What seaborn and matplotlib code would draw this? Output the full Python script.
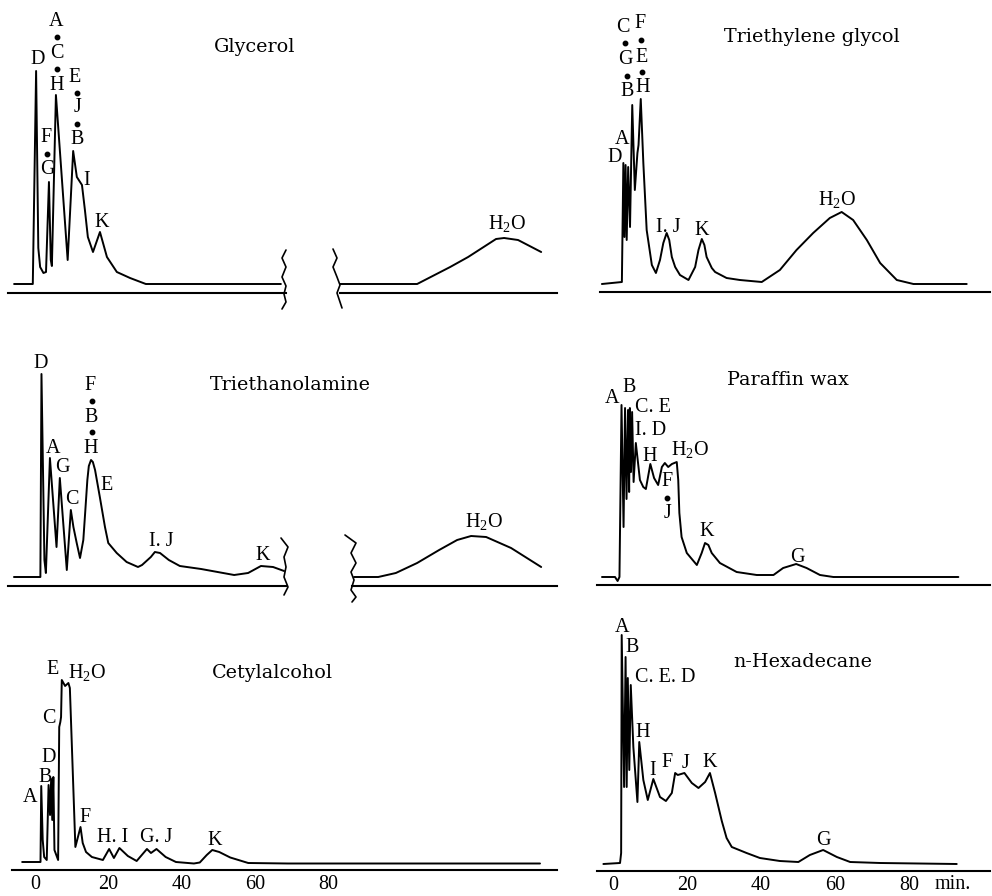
import numpy as np
import pandas as pd
import matplotlib
matplotlib.use("Agg")
import matplotlib.pyplot as plt
import seaborn as sns
from matplotlib.lines import Line2D

# ---------------- data (time in min, detector response in arbitrary units) ----------------
gly_t = [-5.7, -0.6, 0.3, 0.9, 1.4, 2.3, 3.0, 3.8, 4.3, 4.6, 5.7, 8.9, 10.4, 11.4, 12.8,
         13.6, 14.4, 15.8, 17.7, 19.6, 22.3, 25.9, 30.2, 67.0]
gly_r = [0, 0, 213, 36, 17, 11, 12, 102, 24, 18, 189, 24, 133, 107, 99,
         74, 47, 32, 52, 27, 12, 6, 0, 0]
gly_w_t = [157.4, 178.4, 187.4, 192.3, 199.9, 202.1, 205.9, 212.2]
gly_w_r = [0, 0, 17, 27, 45, 46, 44, 32]

teg_t = [-3.0, 2.4, 2.8, 3.1, 3.4, 3.7, 4.1, 4.6, 5.2, 5.9, 6.6, 6.9, 7.5, 8.2, 9.1, 10.5,
         11.6, 12.7, 13.6, 14.5, 15.2, 15.9, 16.8, 18.1, 20.4, 22.2, 23.1, 24.0, 24.7, 25.3,
         26.7, 27.6, 30.7, 34.3, 40.2, 45.1, 49.6, 54.1, 58.6, 61.8, 64.9, 68.6, 72.2,
         76.7, 81.2, 95.6]
teg_r = [0, 2, 121, 47, 119, 44, 117, 57, 179, 94, 131, 139, 185, 121, 54, 19,
         11, 24, 41, 51, 44, 27, 17, 9, 4, 17, 34, 45, 39, 27,
         16, 12, 6, 4, 2, 14, 34, 51, 66, 72, 64, 44, 21,
         4, 0, 0]

tea_t = [-4.1, 3.1, 3.4, 4.2, 4.6, 5.7, 7.5, 8.4, 10.3, 11.4, 12.1, 13.0, 13.9, 14.8,
         15.3, 15.9, 16.3, 16.9, 17.4, 18.0, 19.3, 20.7, 21.6, 23.9, 26.6, 29.7, 30.8,
         33.2, 34.3, 35.7, 38.1, 41.1, 46.9, 55.9, 59.7, 63.2, 66.5, 69.5]
tea_r = [0, 0, 203, 17, 4, 119, 30, 99, 7, 67, 50, 34, 19, 37,
         64, 97, 111, 117, 115, 107, 80, 50, 34, 24, 15, 10, 12,
         20, 25, 24, 17, 11, 8, 2, 4, 11, 10, 6]
tea_w_t = [161.2, 167.8, 172.6, 178.4, 184.4, 189.3, 193.1, 197.2, 204.0, 212.2]
tea_w_r = [0, 0, 4, 14, 27, 37, 41, 40, 29, 10]

par_t = [-3.5, 0.0, 0.7, 1.2, 1.75, 2.3, 2.7, 3.1, 3.5, 3.8, 4.0, 4.3, 4.6, 5.0, 5.6,
         6.7, 7.6, 8.3, 9.5, 10.5, 11.6, 12.6, 13.4, 14.3, 15.3, 16.6, 17.0, 17.3, 17.9,
         19.3, 22.0, 23.3, 24.2, 25.1, 26.0, 28.2, 32.7, 38.1, 42.6, 45.2, 48.7, 51.5,
         55.1, 58.7, 92.3]
par_r = [0, 0, -4, 0, 172, 50, 169, 78, 167, 85, 169, 105, 165, 95, 134,
         97, 90, 88, 113, 99, 92, 110, 114, 110, 113, 115, 97, 64, 40,
         24, 12, 24, 34, 32, 24, 14, 5, 2, 2, 9, 13, 9,
         2, 0, 0]

cet_t = [-3.5, 1.5, 1.7, 2.1, 2.5, 3.2, 3.7, 4.1, 4.4, 4.7, 5.0, 5.3, 6.3, 6.6, 6.9,
         7.1, 7.3, 8.2, 9.1, 9.5, 11.0, 12.4, 13.0, 13.9, 15.5, 18.5, 20.2, 21.5, 23.0,
         25.3, 27.7, 30.5, 31.6, 33.1, 35.6, 38.4, 43.3, 44.9, 46.8, 48.3, 50.2, 53.2,
         58.1, 68.9, 137.6]
cet_r = [0, 0, 76, 22, 5, 2, 77, 47, 83, 42, 85, 12, 2, 135, 140,
         145, 182, 176, 179, 174, 15, 35, 19, 10, 5, 2, 13, 4, 14,
         6, 1, 13, 9, 13, 5, 0, -1.5, -0.5, 7, 12, 10, 4.5,
         -1, -1.5, -1.5]

hex_t = [-2.6, 1.9, 2.2, 2.35, 3.0, 3.4, 3.7, 4.0, 4.4, 4.8, 5.5, 6.6, 7.1, 8.2, 9.4,
         10.9, 12.7, 14.3, 15.9, 16.8, 17.5, 19.3, 21.3, 23.1, 24.9, 26.2, 27.6, 29.4,
         30.7, 32.1, 36.1, 39.7, 45.1, 50.1, 53.2, 56.8, 60.5, 64.1, 72.2, 92.9]
hex_r = [0, 1, 11, 229, 77, 207, 77, 186, 94, 179, 117, 62, 122, 84, 64,
         85, 67, 63, 71, 91, 89, 91, 81, 76, 82, 91, 71, 43,
         26, 17, 11, 6, 3, 2, 9, 14, 7, 2, 1, 0]

gly_ticks, gly_w_ticks = [0, 17.4, 38.1, 58.3], [180, 200]
tea_ticks, tea_w_ticks = [0, 20.2, 40.9, 61.3], [180, 201]
col_ticks = [0, 20, 40, 60, 80]
cet_ticks = [0, 20, 40, 60, 80, 100, 120]
cet_ticklabels = ["0", "20", "40", "60", "80", "", ""]
hex_ticklabels = ["0", "20", "40", "60", "80"]

titles = ["Glycerol", "Triethylene glycol", "Triethanolamine", "Paraffin wax",
          "Cetylalcohol", "n-Hexadecane"]

# ---------------- style ----------------
sns.set_theme(style="white")
plt.rcParams["font.family"] = ["Liberation Serif", "DejaVu Serif"]
plt.rcParams["mathtext.fontset"] = "custom"
plt.rcParams["mathtext.rm"] = "Liberation Serif"
plt.rcParams["mathtext.default"] = "regular"
plt.rcParams["text.color"] = "black"
plt.rcParams["xtick.color"] = "black"
plt.rcParams["xtick.labelcolor"] = "black"
plt.rcParams["axes.labelcolor"] = "black"

W, H = 992, 896
fig = plt.figure(figsize=(W / 100, H / 100), dpi=100)
fig.patch.set_facecolor("white")
LW = 1.4
LBL = 14.5


def make_ax(L, R, top, bot, x0, s, base):
    ax = fig.add_axes([L / W, 1 - bot / H, (R - L) / W, (bot - top) / H])
    ax.set_facecolor("none")
    ax.set_xlim((L - x0) / s, (R - x0) / s)
    ax.set_ylim(base - bot, base - top)
    for sp in ["top", "right", "left"]:
        ax.spines[sp].set_visible(False)
    ax.set_yticks([])
    return ax


def draw(ax, t, r, axr, bounds, ticks, ticklabels=None):
    df = pd.DataFrame({"t": t, "r": r})
    sns.lineplot(data=df, x="t", y="r", ax=ax, color="black", linewidth=LW,
                 sort=False, estimator=None)
    ax.set_xlabel("")
    ax.set_ylabel("")
    sp = ax.spines["bottom"]
    sp.set_position(("data", axr))
    sp.set_bounds(*bounds)
    sp.set_color("black")
    sp.set_linewidth(1.5)
    ax.set_xticks(ticks)
    if ticklabels is None:
        ax.set_xticklabels([""] * len(ticks))
    else:
        ax.set_xticklabels(ticklabels, fontsize=LBL, family="Liberation Serif",
                           color="black")
    ax.tick_params(axis="x", direction="in", length=5, width=1.1, colors="black", pad=3.5)
    ax.grid(False)


# row 1
ax = make_ax(8, 300, 0, 320, 35, 3.67, 284)
draw(ax, gly_t, gly_r, -9, (-7.4, 68.4), gly_ticks)
ax = make_ax(320, 560, 0, 320, -237.6, 3.67, 284)
draw(ax, gly_w_t, gly_w_r, -9, (157.4, 216.5), gly_w_ticks)
ax = make_ax(590, 992, 0, 320, 613, 3.70, 284)
draw(ax, teg_t, teg_r, -8, (-3.5, 101.9), col_ticks)
# row 2
ax = make_ax(8, 300, 330, 612, 29, 3.67, 577)
draw(ax, tea_t, tea_r, -9, (-5.7, 70.0), tea_ticks)
ax = make_ax(320, 560, 330, 612, -237.6, 3.67, 577)
draw(ax, tea_w_t, tea_w_r, -9, (160.7, 216.5), tea_w_ticks)
ax = make_ax(590, 992, 330, 612, 615, 3.72, 577)
draw(ax, par_t, par_r, -8, (-4.8, 100.8), col_ticks)
# row 3
ax = make_ax(8, 570, 615, 896, 35, 3.67, 862)
draw(ax, cet_t, cet_r, -8, (-6.3, 142.2), cet_ticks, cet_ticklabels)
ax = make_ax(590, 992, 615, 896, 613, 3.70, 864)
draw(ax, hex_t, hex_r, -7, (-4.3, 101.9), col_ticks, hex_ticklabels)


# ---------------- text ----------------
def ftext(x, y, s, size=LBL, **kw):
    fig.text(x / W, 1 - y / H, s, ha="center", va="center", fontsize=size,
             color="black", **kw)


title_pos = [(255, 47), (812, 37), (290, 385), (788, 380), (272, 673), (803, 662)]
for (x, y), ttl in zip(title_pos, titles):
    ftext(x, y, ttl, size=13.8, family="DejaVu Serif")

H2O = r"H$_2$O"
labels = [
    # Glycerol
    (38, 60, "D"), (56, 22, "A"), (57, 53, "C"), (57, 85, "H"),
    (75, 77, "E"), (77, 108, "J"), (77, 140, "B"),
    (46, 137, "F"), (47, 170, "G"), (87, 180, "I"), (102, 222, "K"), (507, 223, H2O),
    # Triethylene glycol
    (623, 28, "C"), (640, 24, "F"), (625, 60, "G"), (627, 92, "B"),
    (642, 57, "E"), (643, 88, "H"), (622, 140, "A"), (615, 157, "D"),
    (668, 227, "I. J"), (702, 230, "K"), (837, 199, H2O),
    # Triethanolamine
    (41, 363, "D"), (90, 386, "F"), (91.5, 417, "B"), (91, 448, "H"),
    (53, 448, "A"), (62, 467, "G"), (72, 499, "C"), (107, 485, "E"),
    (161, 542, "I. J"), (263, 556, "K"), (484, 522, H2O),
    # Paraffin wax
    (612, 398, "A"), (629, 387, "B"), (653, 407, "C. E"), (651, 430, "I. D"),
    (650, 456, "H"), (690, 449, H2O), (667, 481, "F"), (667, 514, "J"),
    (707, 532, "K"), (797, 557, "G"),
    # Cetylalcohol
    (53, 670, "E"), (87, 672, H2O), (48.5, 718, "C"), (48.5, 757, "D"), (45, 777, "B"),
    (30.5, 797, "A"), (84.5, 817, "F"), (113, 837, "H. I"), (156, 837, "G. J"),
    (215, 840, "K"),
    # n-Hexadecane
    (622, 627, "A"), (632, 648, "B"), (665, 677, "C. E. D"), (643, 732, "H"),
    (653, 770, "I"), (667, 762, "F"), (685, 763, "J"), (710, 762, "K"), (823, 840, "G"),
]
for x, y, s in labels:
    ftext(x, y, s)

# separator dots between stacked peak names (drawn as small markers)
dots = [(57, 37), (57, 69), (77, 93), (77, 124), (47, 154),
        (625, 43), (627, 76), (641, 40), (642, 72),
        (91.5, 401), (91.5, 432), (667, 498)]
fig.add_artist(Line2D([d[0] / W for d in dots], [1 - d[1] / H for d in dots],
                      transform=fig.transFigure, linestyle="none", marker="o",
                      markersize=3.2, color="black"))

ftext(953, 884, "min.")


# ---------------- axis break marks ----------------
def zigzag(pts):
    xs = np.array([p[0] for p in pts]) / W
    ys = 1 - np.array([p[1] for p in pts]) / H
    fig.add_artist(Line2D(xs, ys, transform=fig.transFigure, color="black", lw=1.2))


zigzag([(286, 250), (282, 258), (286, 267), (282, 277), (286, 286), (284, 294), (286, 302), (282, 309)])
zigzag([(333, 249), (337, 258), (333, 267), (337, 277), (340, 285), (337, 293), (340, 302), (342, 308)])
zigzag([(281, 538), (288, 547), (284, 557), (286, 567), (284, 577), (288, 587), (284, 595)])
zigzag([(345, 535), (356, 543), (351, 553), (356, 563), (351, 572), (354, 580), (351, 590), (356, 597), (352, 602)])

fig.savefig("out.png", dpi=100, facecolor="white")
